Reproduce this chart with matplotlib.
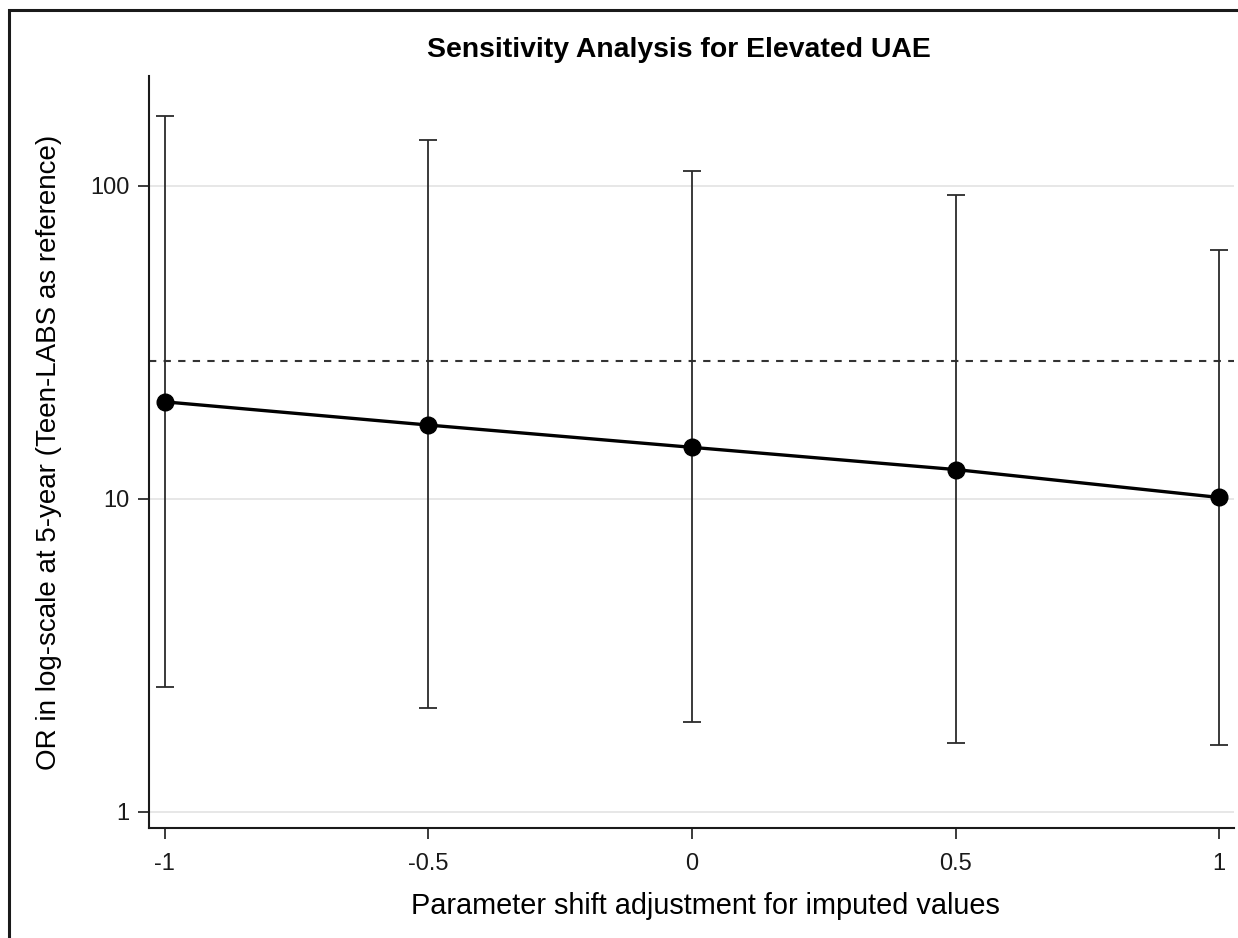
import matplotlib.pyplot as plt
from matplotlib.patches import Rectangle

# parameter shift values and odds ratios
shift = [-1, -0.5, 0, 0.5, 1]
odds_ratio = [20.4, 17.2, 14.6, 12.4, 10.1]
ci_low = [2.51, 2.15, 1.94, 1.66, 1.64]
ci_high = [167, 140, 111, 93.6, 62.5]
reference_or = 27.6

x_ticks = [-1, -0.5, 0, 0.5, 1]
x_tick_labels = ["-1", "-0.5", "0", "0.5", "1"]
y_ticks = [1, 10, 100]
y_tick_labels = ["1", "10", "100"]

plt.rcParams["font.family"] = ["Liberation Sans", "DejaVu Sans"]

fig = plt.figure(figsize=(12.38, 9.38), dpi=100)
ax = fig.add_axes([0.1204, 0.1173, 0.8764, 0.8017])

# outer frame (only top and left visible in the reference)
fig.patches.append(Rectangle((9 / 1238, -0.5), 2, 1.5 - 10 / 938, transform=fig.transFigure,
                             fill=False, edgecolor="#1a1a1a", linewidth=2.2))

ax.set_yscale("log")
ax.set_xlim(-1.030, 1.028)
ax.set_ylim(0.889, 224)

for y in y_ticks:
    ax.axhline(y, color="#e3e3e3", linewidth=1.2, zorder=0)

ax.axhline(reference_or, color="#333333", linestyle=(0, (3.5, 3.5)), linewidth=1.5, zorder=1)

err_low = [o - l for o, l in zip(odds_ratio, ci_low)]
err_high = [h - o for o, h in zip(odds_ratio, ci_high)]
ax.errorbar(shift, odds_ratio, yerr=[err_low, err_high], fmt="none", ecolor="#2b2b2b",
            elinewidth=1.3, capsize=6.5, capthick=1.3, zorder=2)
ax.plot(shift, odds_ratio, color="black", linewidth=2.4, marker="o", markersize=12, zorder=3)

ax.set_xticks(x_ticks)
ax.set_xticklabels(x_tick_labels)
ax.set_yticks(y_ticks)
ax.set_yticklabels(y_tick_labels)
ax.minorticks_off()
ax.tick_params(axis="both", length=8, width=1.2, labelsize=17, colors="#1a1a1a")
ax.tick_params(axis="x", pad=10)
ax.tick_params(axis="y", pad=6)

for side in ["top", "right"]:
    ax.spines[side].set_visible(False)
for side in ["left", "bottom"]:
    ax.spines[side].set_linewidth(1.5)
    ax.spines[side].set_color("#1a1a1a")

ax.set_title("Sensitivity Analysis for Elevated UAE", fontsize=20.4, fontweight="bold",
             pad=14, x=0.4885)
ax.set_xlabel("Parameter shift adjustment for imputed values", fontsize=20.8, labelpad=16)
ax.xaxis.set_label_coords(0.513, -0.085)
ax.set_ylabel("OR in log-scale at 5-year (Teen-LABS as reference)", fontsize=20, labelpad=20)

fig.savefig("out.png", dpi=100)
